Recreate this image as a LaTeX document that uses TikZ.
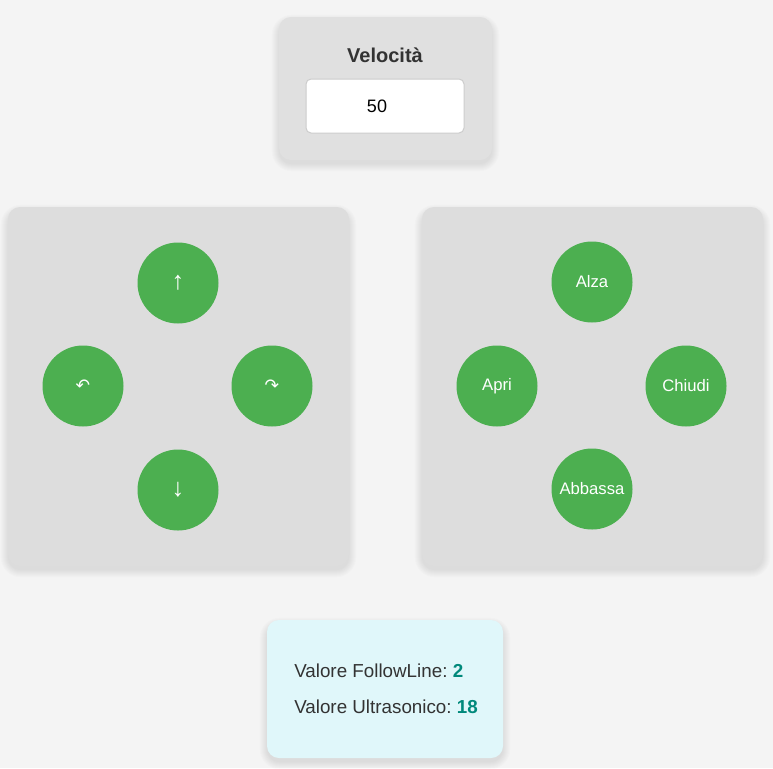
\documentclass[tikz,border=0pt]{standalone}
\usepackage{fontspec}
\setmainfont{Liberation Sans}
\newfontfamily\symfont{DejaVu Sans}
\usetikzlibrary{calc}
\pgfdeclarelayer{bg}
\pgfsetlayers{bg,main}
\frenchspacing
\newcommand\pxu{0.75pt}
\definecolor{bgc}{HTML}{F4F4F4}
\definecolor{boxc}{HTML}{E0E0E0}
\definecolor{panelc}{HTML}{DDDDDD}
\definecolor{btnc}{HTML}{4CAF50}
\definecolor{infoc}{HTML}{E0F7FA}
\definecolor{txtc}{HTML}{333333}
\definecolor{numc}{HTML}{00897B}
\definecolor{inpb}{HTML}{CCCCCC}
\newcommand\cardshadow[1]{%
  \begin{pgfonlayer}{bg}
  \foreach \i in {1,...,8}{%
    \fill[black, opacity=0.013, rounded corners=9pt+\i*0.75pt]
      ($(#1.south west)+(-\i+1,\i+3)$) rectangle ($(#1.north east)+(\i-1,-\i+6)$);
  }
  \end{pgfonlayer}}
\tikzset{
  card/.style={rectangle, rounded corners=9pt, inner sep=0pt},
  btn/.style={circle, fill=btnc, minimum size=81*\pxu, inner sep=0pt, text=white, font=\fontsize{12.5}{14}\selectfont},
  arr/.style={font=\fontsize{19}{21}\selectfont},
  rot/.style={font=\symfont\fontsize{13}{15}\selectfont},
  lbl/.style={text=txtc, inner sep=0pt, anchor=west, font=\fontsize{14.1}{16}\selectfont},
}
\begin{document}
\begin{tikzpicture}[x=0.75pt,y=-0.75pt]
\begin{pgfonlayer}{bg}
\fill[bgc] (0,0) rectangle (773,768);
\end{pgfonlayer}
\useasboundingbox (0,0) rectangle (773,768);
% speed card
\node[card, fill=boxc, minimum width=213*\pxu, minimum height=143*\pxu] (speed) at (385.5,88.5) {};
\cardshadow{speed}
\node[text=txtc, inner sep=0pt, font=\bfseries\fontsize{15}{18}\selectfont] (vtitle) at (385,55) {Velocità};
\node[rectangle, rounded corners=3.75pt, fill=white, draw=inpb, line width=0.75pt, minimum width=158*\pxu, minimum height=54*\pxu, inner sep=0pt] (input) at (385,106) {};
\node[inner sep=0pt, font=\fontsize{13.5}{16}\selectfont] (val) at (377,106) {50};
% movement panel
\node[card, fill=panelc, minimum width=341*\pxu, minimum height=359*\pxu] (move) at (178.5,386.5) {};
\cardshadow{move}
\node[btn, arr] (up) at (178,283) {↑};
\node[btn, rot] (left) at (83,386) {↶};
\node[btn, rot] (right) at (272,386) {↷};
\node[btn, arr] (down) at (178,490) {↓};
% arm panel
\node[card, fill=panelc, minimum width=341*\pxu, minimum height=359*\pxu] (arm) at (592.5,386.5) {};
\cardshadow{arm}
\node[btn] (alza) at (592,282) {Alza};
\node[btn] (apri) at (497,386) {Apri};
\node[btn] (chiudi) at (686,386) {Chiudi};
\node[btn] (abbassa) at (592,489) {Abbassa};
% info card
\node[card, fill=infoc, minimum width=236*\pxu, minimum height=138*\pxu] (info) at (385,689) {};
\cardshadow{info}
\node[lbl] (fl) at (294,671) {Valore FollowLine: \textcolor{numc}{\bfseries 2}};
\node[lbl] (us) at (294,707) {Valore Ultrasonico: \textcolor{numc}{\bfseries 18}};
\end{tikzpicture}
\end{document}
